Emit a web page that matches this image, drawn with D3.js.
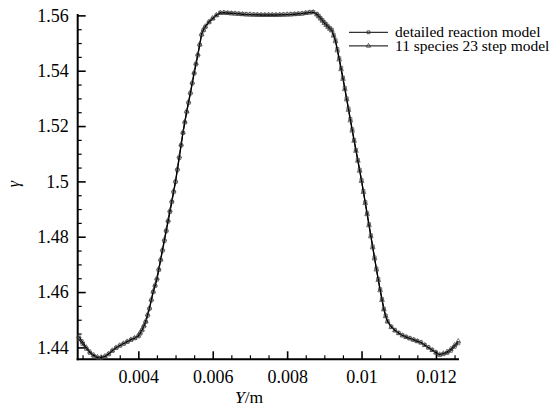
<!DOCTYPE html>
<html><head><meta charset="utf-8">
<script src="https://cdn.jsdelivr.net/npm/d3@7"></script>
<style>
html,body{margin:0;padding:0;background:#fff;}
svg{display:block;}
svg text{font-family:"Liberation Serif","Times New Roman",serif !important;}
</style>
</head><body>
<svg id="chart" width="553" height="407"></svg>
<script>
const xValues = [0.0024,0.0025,0.0026,0.0027,0.0028,0.0029,0.0030,0.0031,0.0032,0.0033,0.0034,0.0035,0.0036,0.0037,0.0038,0.0039,
0.0040,0.0041,0.0042,0.0043,0.0044,0.0045,0.0046,0.0047,0.0048,0.0049,0.0050,0.0051,0.0052,0.0053,0.0054,0.0055,0.0056,0.0057,0.0058,0.0059,
0.0060,0.0061,0.0062,0.0063,0.0064,0.0065,0.0066,0.0067,0.0068,0.0069,0.0070,0.0071,0.0072,0.0073,0.0074,0.0075,0.0076,0.0077,0.0078,0.0079,
0.0080,0.0081,0.0082,0.0083,0.0084,0.0085,0.0086,0.0087,0.0088,0.0089,0.0090,0.0091,0.0092,0.0093,0.0094,0.0095,0.0096,0.0097,0.0098,0.0099,
0.0100,0.0101,0.0102,0.0103,0.0104,0.0105,0.0106,0.0107,0.0108,0.0109,0.0110,0.0111,0.0112,0.0113,0.0114,0.0115,0.0116,0.0117,0.0118,0.0119,
0.0120,0.0121,0.0122,0.0123,0.0124,0.0125,0.0126];

const detailedModel = [1.4430,1.4412,1.4395,1.4380,1.4369,1.4363,1.4362,1.4366,1.4375,1.4387,1.4398,1.4406,1.4413,1.4420,1.4427,1.4433,
1.4440,1.4462,1.4492,1.4540,1.4600,1.4645,1.4715,1.4785,1.4855,1.4925,1.4998,1.5085,1.5175,1.5250,1.5318,1.5390,1.5455,1.5530,1.5558,1.5575,
1.5588,1.5600,1.5609,1.5610,1.5609,1.5608,1.5607,1.5606,1.5605,1.5604,1.5603,1.5603,1.5602,1.5602,1.5602,1.5602,1.5602,1.5602,1.5602,1.5603,
1.5603,1.5604,1.5605,1.5606,1.5607,1.5609,1.5611,1.5612,1.5605,1.5590,1.5575,1.5560,1.5548,1.5510,1.5445,1.5375,1.5300,1.5225,1.5150,1.5078,
1.5005,1.4925,1.4845,1.4765,1.4685,1.4610,1.4540,1.4495,1.4475,1.4462,1.4452,1.4444,1.4438,1.4433,1.4428,1.4423,1.4418,1.4409,1.4400,1.4391,
1.4382,1.4373,1.4376,1.4380,1.4388,1.4402,1.4415];

const reducedModel = [1.4440,1.4420,1.4400,1.4384,1.4372,1.4365,1.4364,1.4368,1.4377,1.4389,1.4399,1.4407,1.4414,1.4421,1.4428,1.4434,
1.4442,1.4464,1.4495,1.4543,1.4603,1.4650,1.4719,1.4790,1.4860,1.4930,1.5002,1.5090,1.5178,1.5254,1.5322,1.5394,1.5460,1.5532,1.5560,1.5577,
1.5590,1.5601,1.5609,1.5609,1.5608,1.5607,1.5606,1.5605,1.5604,1.5603,1.5603,1.5602,1.5602,1.5601,1.5601,1.5601,1.5601,1.5601,1.5602,1.5602,
1.5603,1.5603,1.5604,1.5605,1.5606,1.5608,1.5610,1.5611,1.5603,1.5588,1.5572,1.5558,1.5545,1.5506,1.5440,1.5370,1.5296,1.5220,1.5146,1.5074,
1.5001,1.4921,1.4841,1.4761,1.4681,1.4606,1.4537,1.4493,1.4473,1.4461,1.4451,1.4443,1.4437,1.4432,1.4427,1.4422,1.4417,1.4408,1.4399,1.4390,
1.4381,1.4374,1.4378,1.4384,1.4394,1.4408,1.4422];

// extra (finer grid) samples in the steep regions
const xRefined = [0.00405,0.00415,0.00425,0.00435,0.00445,0.00455,0.00465,0.00475,0.00485,0.00495,0.00505,0.00515,0.00525,0.00535,0.00545,0.00555,0.00565,0.00575,
0.00885,0.00895,0.00905,0.00915,0.00925,0.00935,0.00945,0.00955,0.00965,0.00975,0.00985,0.00995,0.01005,0.01015,0.01025,0.01035,0.01045,0.01055,0.01065];
const detailedRefined = [1.4450,1.4476,1.4515,1.4570,1.4622,1.4680,1.4750,1.4820,1.4890,1.4961,1.5041,1.5130,1.5213,1.5284,1.5354,1.5423,1.5493,1.5546,
1.5598,1.5583,1.5568,1.5554,1.5530,1.5478,1.5410,1.5338,1.5263,1.5188,1.5114,1.5042,1.4965,1.4885,1.4805,1.4725,1.4647,1.4575,1.4515];
const reducedRefined = [1.4453,1.4479,1.4519,1.4574,1.4626,1.4684,1.4754,1.4825,1.4895,1.4966,1.5046,1.5134,1.5216,1.5288,1.5358,1.5427,1.5496,1.5548,
1.5596,1.5580,1.5565,1.5551,1.5526,1.5473,1.5405,1.5333,1.5258,1.5183,1.5110,1.5038,1.4961,1.4881,1.4801,1.4721,1.4643,1.4571,1.4512];

const seriesNames = ["detailed reaction model","11 species 23 step model"];
const xTicks = [0.004,0.006,0.008,0.01,0.012];
const xTickLabels = ["0.004","0.006","0.008","0.01","0.012"];
const xMinorTicks = [0.0025,0.003,0.0035,0.0045,0.005,0.0055,0.0065,0.007,0.0075,0.0085,0.009,0.0095,0.0105,0.011,0.0115,0.0125];
const yTicks = [1.44,1.46,1.48,1.5,1.52,1.54,1.56];
const yTickLabels = ["1.44","1.46","1.48","1.5","1.52","1.54","1.56"];
const yMinorTicks = [1.445,1.45,1.455,1.465,1.47,1.475,1.485,1.49,1.495,1.505,1.51,1.515,1.525,1.53,1.535,1.545,1.55,1.555];

const FONT = '"Liberation Serif"';
const svg = d3.select("#chart");
const L = 77.7, R = 459, T = 14, B = 359.3;
const x = d3.scaleLinear().domain([0.00237, 0.01262]).range([L, R]);
const y = d3.scaleLinear().domain([1.4357, 1.5605]).range([B, T]);

// minor ticks
svg.append("g").attr("transform", `translate(0,${B})`)
  .call(d3.axisBottom(x).tickValues(xMinorTicks).tickSize(-4).tickFormat(""))
  .call(g => g.select(".domain").remove())
  .call(g => g.selectAll("line").attr("stroke","#000").attr("stroke-width",1.2));
svg.append("g").attr("transform", `translate(${L},0)`)
  .call(d3.axisLeft(y).tickValues(yMinorTicks).tickSize(-4).tickFormat(""))
  .call(g => g.select(".domain").remove())
  .call(g => g.selectAll("line").attr("stroke","#000").attr("stroke-width",1.2));

// major ticks
svg.append("g").attr("transform", `translate(0,${B})`)
  .call(d3.axisBottom(x).tickValues(xTicks).tickSize(-8).tickPadding(10.5)
        .tickFormat((d,i) => xTickLabels[i]))
  .call(g => g.attr("font-family",null))
  .call(g => g.select(".domain").remove())
  .call(g => g.selectAll("line").attr("stroke","#000").attr("stroke-width",1.6))
  .call(g => g.selectAll("text").attr("fill","#000").attr("font-size",18)
        .style("font-family",FONT).attr("dy","0.71em"));
svg.append("g").attr("transform", `translate(${L},0)`)
  .call(d3.axisLeft(y).tickValues(yTicks).tickSize(-8).tickPadding(9)
        .tickFormat((d,i) => yTickLabels[i]))
  .call(g => g.attr("font-family",null))
  .call(g => g.select(".domain").remove())
  .call(g => g.selectAll("line").attr("stroke","#000").attr("stroke-width",1.6))
  .call(g => g.selectAll("text").attr("fill","#000").attr("font-size",18)
        .style("font-family",FONT));

// axis lines
svg.append("line").attr("x1",L).attr("x2",L).attr("y1",T).attr("y2",B+1)
  .attr("stroke","#000").attr("stroke-width",2);
svg.append("line").attr("x1",L-1).attr("x2",R).attr("y1",B).attr("y2",B)
  .attr("stroke","#000").attr("stroke-width",2);

// series
const seriesList = [
  {name: seriesNames[0], values: detailedModel, extra: detailedRefined, sym: d3.symbolSquare},
  {name: seriesNames[1], values: reducedModel, extra: reducedRefined, sym: d3.symbolTriangle}
];
const line = d3.line().x(d => x(d[0])).y(d => y(d[1]));
seriesList.forEach(s => {
  const pts = xValues.map((xv,i) => [xv, s.values[i]])
    .concat(xRefined.map((xv,i) => [xv, s.extra[i]]))
    .sort((a,b) => a[0]-b[0]);
  svg.append("path").datum(pts).attr("d", line)
    .attr("fill","none").attr("stroke","#000").attr("stroke-width",1.2);
  svg.append("g").selectAll("path").data(pts).join("path")
    .attr("transform", d => `translate(${x(d[0])},${y(d[1])})`)
    .attr("d", d3.symbol().type(s.sym).size(10))
    .attr("fill","none").attr("stroke","#444").attr("stroke-width",0.7);
});

// legend
const legX1 = 349, legX2 = 388, legTextX = 395;
seriesList.forEach((s,i) => {
  const ly = 32.3 + i*13.6;
  svg.append("line").attr("x1",legX1).attr("x2",legX2).attr("y1",ly).attr("y2",ly)
    .attr("stroke","#000").attr("stroke-width",1);
  svg.append("path").attr("transform",`translate(${(legX1+legX2)/2},${ly})`)
    .attr("d", d3.symbol().type(s.sym).size(8))
    .attr("fill","none").attr("stroke","#333").attr("stroke-width",0.8);
  svg.append("text").attr("x",legTextX).attr("y",ly).attr("dy","0.33em")
    .attr("font-size",15.5).style("font-family",FONT).attr("fill","#000").text(s.name);
});

// axis titles
const xt = svg.append("text").attr("x",249).attr("y",403).attr("text-anchor","middle")
  .attr("font-size",17.5).style("font-family",FONT).attr("fill","#000");
xt.append("tspan").attr("font-style","italic").text("Y");
xt.append("tspan").text("/m");

svg.append("text").attr("transform","translate(19,184) rotate(-90)")
  .attr("text-anchor","middle").attr("font-size",16).attr("font-style","italic")
  .style("font-family",FONT).attr("fill","#000").text("γ");
</script>
</body></html>
